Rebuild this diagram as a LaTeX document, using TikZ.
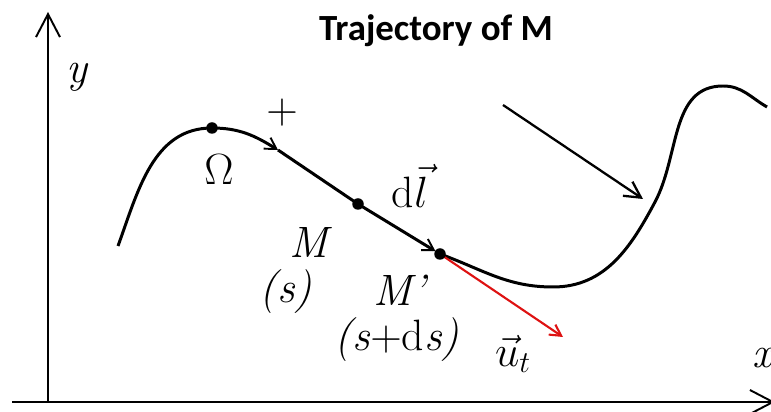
\documentclass[tikz,border=0pt]{standalone}
\usepackage{amsmath}
\usepackage{fontspec}
\newfontfamily\titlefont{Carlito}
\usetikzlibrary{arrows.meta,positioning}
\usepackage{xcolor}
\definecolor{trajred}{RGB}{222,18,18}
\tikzset{
    axis/.style={
        line width=1.3pt,
        -{Straight Barb[length=4.6mm,width=4.8mm,line width=1.1pt]}
    },
    traj/.style={line width=1.7pt,line join=round},
    flow/.style={-{Straight Barb[length=2.2mm,width=2.6mm,line width=1.1pt]}},
    dot/.style={circle,fill=black,inner sep=0pt,minimum size=0.23cm},
    lbl/.style={font=\fontsize{25}{27}\selectfont,inner sep=0pt},
    vecarrow/.style={
        line width=1.3pt,
        -{Straight Barb[length=3.2mm,width=3.4mm]}
    }
}

\begin{document}
\begin{tikzpicture}[x=0.02cm,y=0.02cm]
\useasboundingbox (0,0) rectangle (771,412);

% axes
\coordinate (xstart) at (12,10);
\coordinate (xend) at (775,10);
\coordinate (origin) at (48,10);
\coordinate (yend) at (48,400);
\draw[axis] (xstart) -- (xend);
\draw[axis] (origin) -- (yend);

% points of the trajectory
\coordinate (start) at (118,166);
\coordinate (Omega) at (212,284);
\coordinate (tick) at (278,262);
\coordinate (M) at (358,208);
\coordinate (Mp) at (440,158);
\coordinate (low) at (553,125);
\coordinate (rise) at (655,210);
\coordinate (top) at (723,326);
\coordinate (stop) at (767,305);

\draw[traj,flow] (start) to[out=70,in=180] (Omega) to[out=0,in=148] (tick);
\draw[traj,flow,shorten >=3pt] (tick) -- (M) -- (Mp);
\draw[traj] (Mp) to[out=-20,in=180] (low) to[out=0,in=-118] (rise)
    to[out=62,in=180] (top) to[out=0,in=150] (stop);

% tangent vector and pointer
\coordinate (ut) at (563,75);
\draw[line width=1.2pt,trajred,
    -{Straight Barb[length=2.2mm,width=2.4mm]}] (Mp) -- (ut);
\coordinate (ptrS) at (503,307);
\coordinate (ptrE) at (643,213);
\draw[vecarrow] (ptrS) -- (ptrE);

\node[dot] (dOmega) at (Omega) {};
\node[dot] (dM) at (M) {};
\node[dot] (dMp) at (Mp) {};

% labels
\node[font=\titlefont\fontsize{21}{24}\selectfont\bfseries] (title) at (436,381) {Trajectory of M};
\node[lbl] (ylbl) at (78,335) {\textit{y}};
\node[lbl] (xlbl) at (764,54) {\textit{x}};
\node[lbl] (plus) at (282,299) {$+$};
\node[lbl] (omegalbl) at (219,242) {$\Omega$};
\node[lbl] (dllbl) at (410,226) {d$\vec{l}$};
\node[lbl] (Mlbl) at (311,169) {\textit{M}};
\node[lbl] (slbl) at (286,120) {\textit{(s)}};
\node[lbl] (Mplbl) at (401,122) {\textit{M’}};
\node[lbl] (dslbl) at (397,72) {\textit{(s}$+$d\textit{s)}};
\node[lbl] (utlbl) at (513,58) {$\vec{u}_t$};

\end{tikzpicture}
\end{document}
